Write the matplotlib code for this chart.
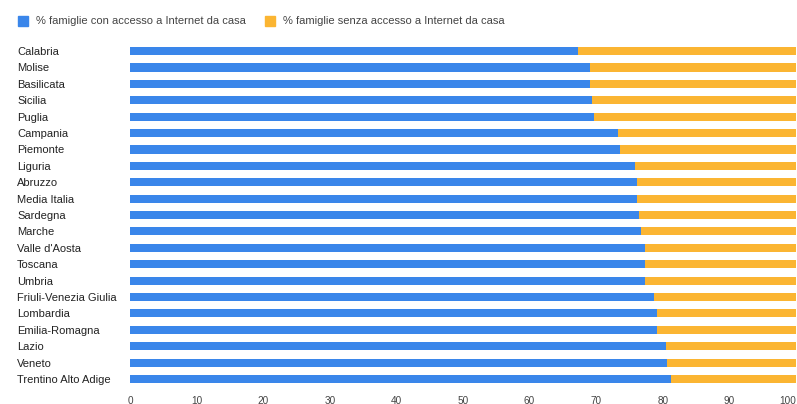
import matplotlib
matplotlib.use("Agg")
import matplotlib.pyplot as plt
from matplotlib.patches import Rectangle

plt.rcParams['font.family'] = ['Liberation Sans', 'DejaVu Sans']

regions = ["Calabria", "Molise", "Basilicata", "Sicilia", "Puglia", "Campania",
           "Piemonte", "Liguria", "Abruzzo", "Media Italia", "Sardegna", "Marche",
           "Valle d'Aosta", "Toscana", "Umbria", "Friuli-Venezia Giulia",
           "Lombardia", "Emilia-Romagna", "Lazio", "Veneto", "Trentino Alto Adige"]
with_access = [67.2, 69.0, 69.0, 69.3, 69.6, 73.2, 73.5, 75.8, 76.1, 76.1, 76.4,
               76.7, 77.4, 77.4, 77.4, 78.7, 79.1, 79.1, 80.5, 80.6, 81.2]
without_access = [round(100 - v, 1) for v in with_access]
xticks = [0, 10, 20, 30, 40, 50, 60, 70, 80, 90, 100]
series_names = ["% famiglie con accesso a Internet da casa",
                "% famiglie senza accesso a Internet da casa"]

blue = "#3a86ea"
orange = "#fbb532"
txt = "#444444"

W, H = 797, 404
fig = plt.figure(figsize=(W / 100, H / 100), dpi=100)
ax = fig.add_axes([130 / W, 1 - 387.2 / H, 666 / W, (387.2 - 42.8) / H])

y = list(range(len(regions)))
ax.barh(y, with_access, height=0.5, color=blue, linewidth=0)
ax.barh(y, without_access, left=with_access, height=0.5, color=orange, linewidth=0)
ax.set_ylim(len(regions) - 0.5, -0.5)
ax.set_xlim(0, 100)
ax.set_xticks(xticks)
ax.set_xticklabels([str(t) for t in xticks], fontsize=7.2, color=txt)
ax.get_xticklabels()[-1].set_horizontalalignment("right")
ax.set_yticks(y)
ax.set_yticklabels(regions, fontsize=8, color="#222222", ha="left")
ax.tick_params(axis="y", length=0, pad=113 * 0.72)
ax.tick_params(axis="x", length=0, pad=6)
for s in ax.spines.values():
    s.set_visible(False)

# legend
for (x0, name, col) in [(18, series_names[0], blue), (265, series_names[1], orange)]:
    fig.patches.append(Rectangle((x0 / W, 1 - 26 / H), 10 / W, 10 / H,
                                 transform=fig.transFigure, color=col))
    fig.text((x0 + 18) / W, 1 - 21 / H, name, fontsize=8, color=txt, va="center")

fig.savefig("out.png", dpi=100)
